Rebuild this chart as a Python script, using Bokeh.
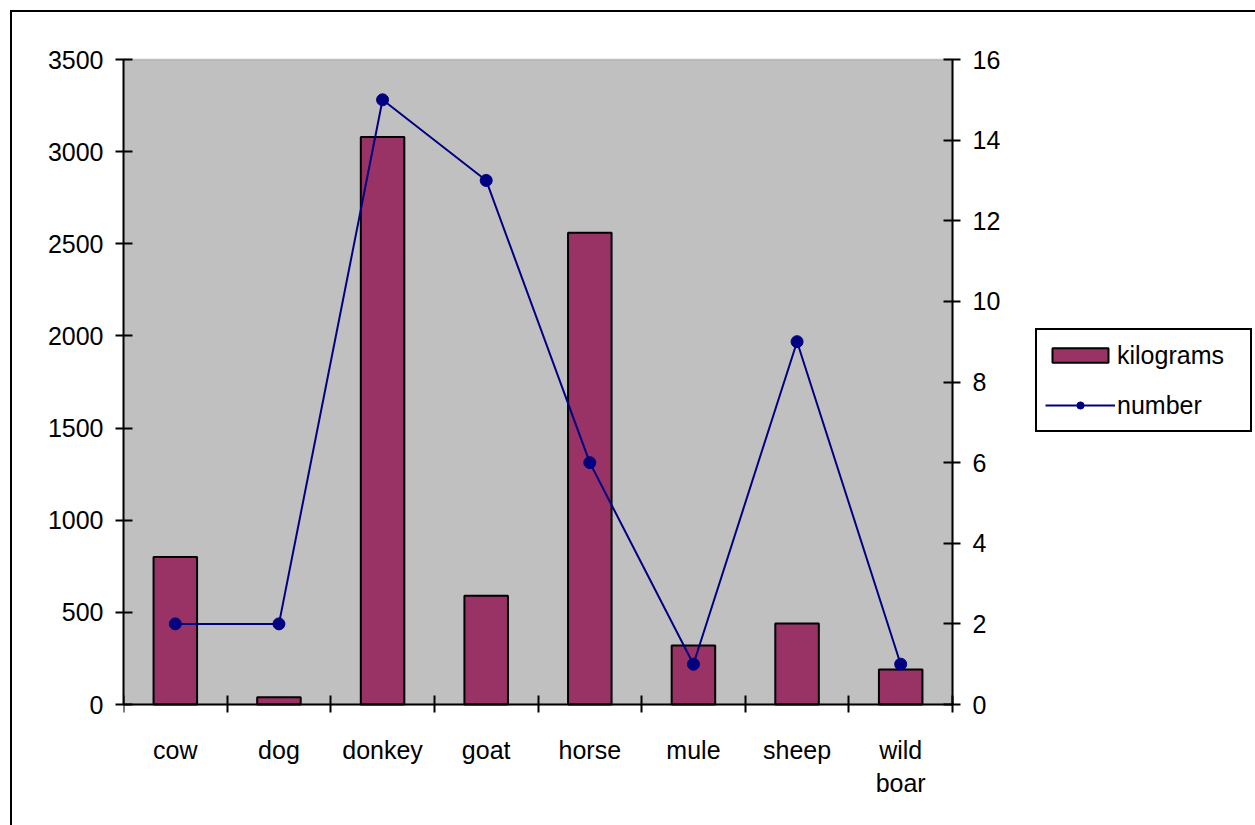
from bokeh.plotting import figure
from bokeh.models import (Range1d, LinearAxis, FixedTicker, Legend, LegendItem,
                          ColumnDataSource, BoxAnnotation)
from bokeh.embed import file_html
from bokeh.resources import INLINE

# Animal data
animals = ["cow", "dog", "donkey", "goat", "horse", "mule", "sheep", "wild boar"]
kilograms = [800, 40, 3080, 590, 2560, 320, 440, 190]
number = [2, 2, 15, 13, 6, 1, 9, 1]
kg_ticks = [0, 500, 1000, 1500, 2000, 2500, 3000, 3500]
num_ticks = [0, 2, 4, 6, 8, 10, 12, 14, 16]

FONT = "Liberation Sans"
FS = "25px"

# page geometry (pixels): the frame spans the whole page to the right of the
# left axis, so the legend beside the plot area is not clipped; the gray plot
# area itself is the box x in [0, n], kg in [0, 3500]
LEFT = 123          # left edge of plot area
AREA_W = 829        # plot area width
AREA_TOP = 59       # top of plot area
AREA_BOTTOM = 704   # bottom of plot area
PAGE_H = 825
FRAME_W = 1150

n = len(animals)
kg_max = kg_ticks[-1]
num_max = num_ticks[-1]
area_h = AREA_BOTTOM - AREA_TOP

x_end = n * FRAME_W / AREA_W
kg_lo = -(PAGE_H - AREA_BOTTOM) * kg_max / area_h
kg_hi = kg_max + AREA_TOP * kg_max / area_h
num_lo = -(PAGE_H - AREA_BOTTOM) * num_max / area_h
num_hi = num_max + AREA_TOP * num_max / area_h

pos = [i + 0.5 for i in range(n)]
src = ColumnDataSource(dict(x=pos, kg=kilograms, n=number, name=animals))

p = figure(frame_width=FRAME_W, frame_height=PAGE_H,
           output_backend="svg", toolbar_location=None,
           x_range=Range1d(0, x_end), y_range=Range1d(kg_lo, kg_hi),
           min_border_left=LEFT, min_border_right=0,
           min_border_top=0, min_border_bottom=0)
p.extra_y_ranges = {"num": Range1d(num_lo, num_hi)}

p.background_fill_color = None
p.border_fill_color = None
p.outline_line_color = None
p.grid.visible = False

# white chart area with a black edge along its top and left sides
p.styles = {
    "background-color": "white",
    "background-image": "linear-gradient(black, black), linear-gradient(black, black)",
    "background-size": "1400px 2px, 2px 1000px",
    "background-position": "10px 10px, 10px 10px",
    "background-repeat": "no-repeat",
}

# gray plot area
area = BoxAnnotation(left=0, right=n, bottom=0, top=kg_max, level="underlay",
                     fill_color="#c0c0c0", fill_alpha=1,
                     line_color="#808080", line_width=2)
p.add_layout(area)

bars = p.vbar(x="x", top="kg", width=0.42, source=src,
              fill_color="#993366", line_color="black", line_width=2)
ln = p.line(x="x", y="n", source=src, y_range_name="num",
            line_color="#000080", line_width=2)
pts = p.scatter(x="x", y="n", source=src, y_range_name="num",
                size=12, fill_color="#000080", line_color="#000080")

# category axis: boundary tick marks, names centred under each bar
xax = p.xaxis[0]
xax.fixed_location = 0
xax.bounds = (0, n)
xax.ticker = FixedTicker(ticks=pos, minor_ticks=list(range(n + 1)))
labels = {}
for x, a in zip(pos, animals):
    labels[x] = a.replace(" ", "\n")
xax.major_label_overrides = labels
xax.major_tick_in = 0
xax.major_tick_out = 0
xax.minor_tick_in = 9
xax.minor_tick_out = 8
xax.minor_tick_line_color = "black"
xax.minor_tick_line_width = 2
xax.major_label_standoff = 23

yax = p.yaxis[0]
yax.bounds = (0, kg_max)
yax.ticker = FixedTicker(ticks=kg_ticks)

rax = LinearAxis(y_range_name="num", ticker=FixedTicker(ticks=num_ticks),
                 fixed_location=n, bounds=(0, num_max))
p.add_layout(rax, "right")

for ax in [xax, yax, rax]:
    ax.axis_line_color = "black"
    ax.axis_line_width = 2
    ax.major_tick_line_color = "black"
    ax.major_tick_line_width = 2
    ax.major_label_text_font = FONT
    ax.major_label_text_font_size = FS
    ax.major_label_text_color = "black"

for ax in [yax, rax]:
    ax.major_tick_in = 9
    ax.major_tick_out = 8
    ax.minor_tick_line_color = None
    ax.major_label_standoff = 12

legend = Legend(items=[LegendItem(label="kilograms", renderers=[bars]),
                       LegendItem(label="number", renderers=[ln, pts])],
                location=(912, PAGE_H - 432), orientation="vertical",
                border_line_color="black", border_line_width=2,
                border_line_alpha=1,
                background_fill_color="white", background_fill_alpha=1,
                label_text_font=FONT, label_text_font_size=FS,
                label_text_color="black",
                glyph_width=70, glyph_height=18, label_height=34,
                label_width=125, spacing=16, padding=8, margin=0,
                label_standoff=2)
p.add_layout(legend, "center")

open("out.html", "w").write(file_html(p, INLINE))
